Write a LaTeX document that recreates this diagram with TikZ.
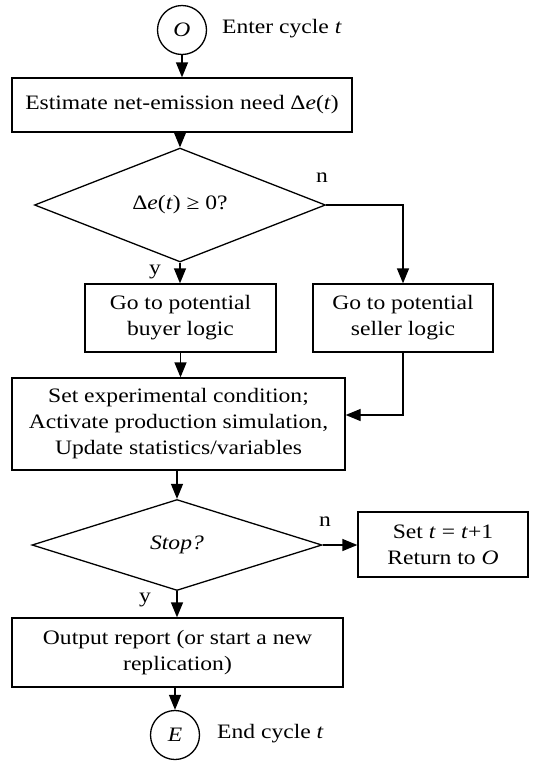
\documentclass[tikz,border=0pt]{standalone}
\usepackage{fontspec}
\setmainfont[FakeStretch=1.15]{Liberation Serif}
\usetikzlibrary{shapes.geometric,arrows.meta,calc}
\tikzset{
  box/.style={draw, line width=1.3pt, rectangle, inner sep=0pt, align=center, font=\fontsize{20.5}{26}\selectfont},
  dia/.style={draw, line width=1.3pt, diamond, inner sep=0pt, font=\fontsize{20.5}{26}\selectfont},
  term/.style={draw, line width=1.3pt, circle, minimum size=49pt, inner sep=0pt, font=\fontsize{20.5}{26}\selectfont\itshape},
  lbl/.style={font=\fontsize{20.5}{26}\selectfont, inner sep=0pt},
  conn/.style={line width=1.3pt, -{Triangle[length=15pt,width=12pt]}}
}
\begin{document}
\begin{tikzpicture}[x=1pt,y=-1pt]
\useasboundingbox[fill=white] (0,0) rectangle (544,761);
\node[term] (O) at (182,30) {O};
\node[lbl, anchor=west] (enter) at (222,29) {Enter cycle \textit{t}};
\node[box, minimum width=340pt, minimum height=54pt] (est) at (182,105) {Estimate net-emission need Δ\textit{e}(\textit{t})};
\node[dia, minimum width=291pt, minimum height=89pt] (d1) at (180,205) {Δ\textit{e}(\textit{t}) ≥ 0?};
\node[box, minimum width=191pt, minimum height=68pt] (buyer) at (180.5,318) {Go to potential\\buyer logic};
\node[box, minimum width=180pt, minimum height=68pt] (seller) at (403,318) {Go to potential\\seller logic};
\node[box, minimum width=333pt, minimum height=92pt] (act) at (178.5,424) {Set experimental condition;\\Activate production simulation,\\Update statistics/variables};
\node[dia, minimum width=290pt, minimum height=91pt] (d2) at (177,545) {\textit{Stop?}};
\node[box, minimum width=170pt, minimum height=65pt] (next) at (443,544.5) {Set \textit{t} = \textit{t}+1\\Return to \textit{O}};
\node[box, minimum width=331pt, minimum height=69pt] (out) at (177.5,652.5) {Output report (or start a new\\replication)};
\node[term] (E) at (175,735) {E};
\node[lbl, anchor=west] (endt) at (217,734) {End cycle \textit{t}};
\node[lbl] (n1) at (322,178) {n};
\node[lbl] (y1) at (155,272) {y};
\node[lbl] (n2) at (325,522) {n};
\node[lbl] (y2) at (145,600) {y};
\draw[conn] (O.south) -- (O.south |- est.north);
\draw[conn] (d1.north |- est.south) -- (d1.north);
\draw[conn] (d1.south) -- (d1.south |- buyer.north);
\draw[conn] (d1.east) -| (seller.north);
\draw[conn] (buyer.south) -- (buyer.south |- act.north);
\draw[conn] (seller.south) |- ([yshift=9pt]act.east);
\draw[conn] (d2.north |- act.south) -- (d2.north);
\draw[conn] (d2.east) -- (d2.east -| next.west);
\draw[conn] (d2.south) -- (d2.south |- out.north);
\draw[conn] (E.north |- out.south) -- (E.north);
\end{tikzpicture}
\end{document}
